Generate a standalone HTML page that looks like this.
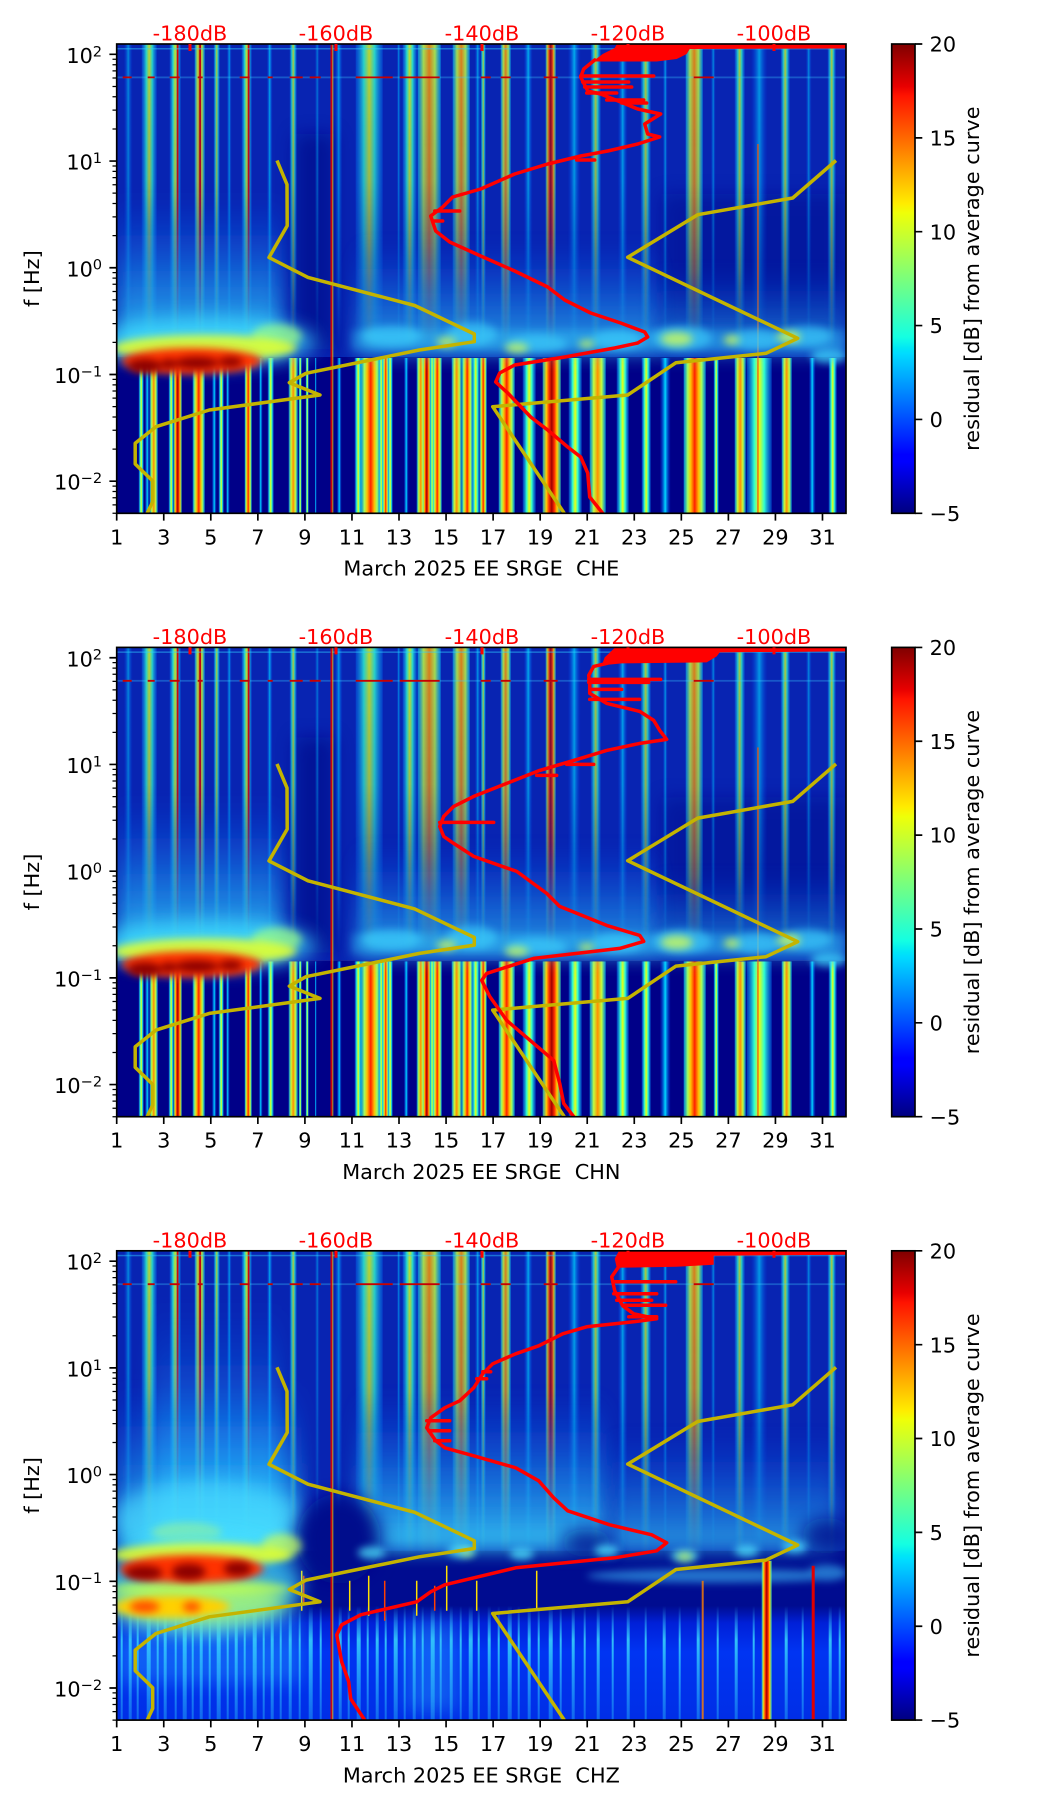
<!DOCTYPE html>
<html><head><meta charset="utf-8">
<style>
html,body{margin:0;padding:0;background:#fff;}
svg{display:block;}
text{font-family:"DejaVu Sans","Liberation Sans",sans-serif;font-size:20.8px;}
</style></head><body>
<svg xmlns="http://www.w3.org/2000/svg" width="1052" height="1806" viewBox="0 0 1052 1806">
<defs>
<linearGradient id="jet" x1="0" y1="1" x2="0" y2="0">
<stop offset="0" stop-color="#000080"/><stop offset=".11" stop-color="#0000ff"/><stop offset=".125" stop-color="#0000ff"/>
<stop offset=".34" stop-color="#00dbff"/><stop offset=".35" stop-color="#00e5f7"/><stop offset=".375" stop-color="#14ffe2"/>
<stop offset=".5" stop-color="#7bff7b"/><stop offset=".64" stop-color="#efff08"/><stop offset=".66" stop-color="#ffec00"/>
<stop offset=".89" stop-color="#ff1300"/><stop offset=".91" stop-color="#e80000"/><stop offset="1" stop-color="#800000"/>
</linearGradient>
<linearGradient id="gR" x1="0" y1="0" x2="1" y2="0">
<stop offset="0" stop-color="#00d0ff" stop-opacity=".6"/><stop offset=".18" stop-color="#a0ff60"/><stop offset=".32" stop-color="#ffc000"/>
<stop offset=".5" stop-color="#ff2000"/><stop offset=".68" stop-color="#ffc000"/><stop offset=".82" stop-color="#a0ff60"/><stop offset="1" stop-color="#00d0ff" stop-opacity=".6"/>
</linearGradient>
<linearGradient id="gD" x1="0" y1="0" x2="1" y2="0">
<stop offset="0" stop-color="#40ffc0" stop-opacity=".6"/><stop offset=".2" stop-color="#ffd000"/><stop offset=".35" stop-color="#ff3000"/>
<stop offset=".5" stop-color="#a00000"/><stop offset=".65" stop-color="#ff3000"/><stop offset=".8" stop-color="#ffd000"/><stop offset="1" stop-color="#40ffc0" stop-opacity=".6"/>
</linearGradient>
<linearGradient id="gO" x1="0" y1="0" x2="1" y2="0">
<stop offset="0" stop-color="#00d0ff" stop-opacity=".6"/><stop offset=".25" stop-color="#c0ff40"/><stop offset=".5" stop-color="#ff9000"/>
<stop offset=".75" stop-color="#c0ff40"/><stop offset="1" stop-color="#00d0ff" stop-opacity=".6"/>
</linearGradient>
<linearGradient id="gY" x1="0" y1="0" x2="1" y2="0">
<stop offset="0" stop-color="#0080ff" stop-opacity=".4"/><stop offset=".3" stop-color="#30ffd0"/><stop offset=".5" stop-color="#e8ff10"/>
<stop offset=".7" stop-color="#30ffd0"/><stop offset="1" stop-color="#0080ff" stop-opacity=".4"/>
</linearGradient>
<linearGradient id="gC" x1="0" y1="0" x2="1" y2="0">
<stop offset="0" stop-color="#0040ff" stop-opacity="0"/><stop offset=".5" stop-color="#00d8ff"/><stop offset="1" stop-color="#0040ff" stop-opacity="0"/>
</linearGradient>
<linearGradient id="glowC" x1="0" y1="0" x2="0" y2="1">
<stop offset="0" stop-color="#1060ff" stop-opacity="0"/><stop offset=".5" stop-color="#20b0ff" stop-opacity=".45"/><stop offset="1" stop-color="#40e8ff" stop-opacity=".85"/>
</linearGradient>
<linearGradient id="gSV" x1="0" y1="0" x2="0" y2="1">
<stop offset="0" stop-color="#40f0ff" stop-opacity="0"/><stop offset=".3" stop-color="#40f0ff" stop-opacity=".75"/><stop offset="1" stop-color="#30d0ff" stop-opacity=".35"/>
</linearGradient>
<linearGradient id="lowB" x1="0" y1="0" x2="0" y2="1">
<stop offset="0" stop-color="#000c90"/><stop offset=".15" stop-color="#0020d8"/><stop offset=".4" stop-color="#0034f2"/><stop offset="1" stop-color="#002ee6"/>
</linearGradient>
<linearGradient id="fadeUp" x1="0" y1="0" x2="0" y2="1">
<stop offset="0" stop-color="#fff" stop-opacity=".95"/><stop offset=".45" stop-color="#fff" stop-opacity=".8"/>
<stop offset=".75" stop-color="#fff" stop-opacity=".45"/><stop offset="1" stop-color="#fff" stop-opacity="0"/>
</linearGradient>
<mask id="mU" maskUnits="userSpaceOnUse" x="0" y="0" width="730" height="470"><rect x="0" y="0" width="730" height="305" fill="url(#fadeUp)"/></mask>
<clipPath id="cp"><rect x="0" y="0" width="729.3" height="469.3"/></clipPath>
<filter id="b4" x="-50%" y="-50%" width="200%" height="200%"><feGaussianBlur stdDeviation="4"/></filter>
<filter id="b8" x="-50%" y="-50%" width="200%" height="200%"><feGaussianBlur stdDeviation="9"/></filter>

<g id="ups">
<rect x="7" width="9" height="305" fill="url(#gC)" opacity=".6"/>
<rect x="25" width="15" height="305" fill="url(#gY)" opacity=".85"/>
<rect x="53" width="11" height="305" fill="url(#gY)" opacity=".9"/>
<rect x="60" width="1.8" height="305" fill="#e00000"/>
<rect x="78" width="10" height="305" fill="url(#gO)" opacity=".9"/>
<rect x="82.5" width="1.8" height="305" fill="#d00000"/>
<rect x="97" width="6" height="305" fill="url(#gY)" opacity=".8"/>
<rect x="110" width="5" height="305" fill="url(#gC)" opacity=".7"/>
<rect x="125" width="10" height="305" fill="url(#gY)" opacity=".9"/>
<rect x="131" width="1.8" height="305" fill="#e00000"/>
<rect x="150" width="6" height="305" fill="url(#gC)" opacity=".8"/>
<rect x="173" width="7" height="305" fill="url(#gY)" opacity=".8"/>
<rect x="198" width="5" height="305" fill="url(#gC)" opacity=".5"/>
<rect x="218" width="8" height="305" fill="url(#gC)" opacity=".7"/>
<rect x="239" width="27" height="305" fill="url(#gY)" opacity=".85"/>
<rect x="280" width="4" height="305" fill="url(#gC)" opacity=".6"/>
<rect x="286" width="14" height="305" fill="url(#gY)" opacity=".9"/>
<rect x="301" width="23" height="305" fill="url(#gO)" opacity=".9"/>
<rect x="336" width="17" height="305" fill="url(#gO)" opacity=".9"/>
<rect x="358" width="6" height="305" fill="url(#gC)" opacity=".7"/>
<rect x="364" width="5" height="305" fill="url(#gY)" opacity=".8"/>
<rect x="384" width="10" height="305" fill="url(#gO)" opacity=".9"/>
<rect x="407" width="9" height="305" fill="url(#gC)" opacity=".8"/>
<rect x="429" width="10" height="305" fill="url(#gD)" opacity=".9"/>
<rect x="451" width="13" height="305" fill="url(#gC)" opacity=".8"/>
<rect x="474" width="10" height="305" fill="url(#gY)" opacity=".8"/>
<rect x="501" width="10" height="305" fill="url(#gC)" opacity=".8"/>
<rect x="524" width="10" height="305" fill="url(#gY)" opacity=".8"/>
<rect x="546" width="5" height="305" fill="url(#gC)" opacity=".7"/>
<rect x="569" width="17" height="305" fill="url(#gO)" opacity=".9"/>
<rect x="594" width="5" height="305" fill="url(#gC)" opacity=".6"/>
<rect x="618" width="10" height="305" fill="url(#gY)" opacity=".8"/>
<rect x="634" width="17" height="305" fill="url(#gC)" opacity=".7"/>
<rect x="664" width="9" height="305" fill="url(#gY)" opacity=".8"/>
<rect x="689" width="6" height="305" fill="url(#gC)" opacity=".6"/>
<rect x="711" width="8" height="305" fill="url(#gY)" opacity=".8"/>
</g>

<g id="lows">
<rect x="22" y="314" width="5" height="156" fill="url(#gY)"/>
<rect x="28" y="314" width="5" height="156" fill="url(#gC)"/>
<rect x="33" y="314" width="8" height="156" fill="url(#gO)"/>
<rect x="52" y="314" width="5" height="156" fill="url(#gY)"/>
<rect x="57" y="314" width="8" height="156" fill="url(#gD)"/>
<rect x="76" y="314" width="12" height="156" fill="url(#gR)"/>
<rect x="95" y="314" width="5" height="156" fill="url(#gC)"/>
<rect x="102" y="314" width="5" height="156" fill="url(#gY)"/>
<rect x="109" y="314" width="4" height="156" fill="url(#gC)"/>
<rect x="128" y="314" width="7" height="156" fill="url(#gR)"/>
<rect x="142" y="314" width="4" height="156" fill="url(#gC)"/>
<rect x="151" y="314" width="6" height="156" fill="url(#gY)"/>
<rect x="172" y="314" width="9" height="156" fill="url(#gO)"/>
<rect x="182" y="314" width="3" height="156" fill="url(#gY)"/>
<rect x="189" y="314" width="3" height="156" fill="url(#gY)"/>
<rect x="198" y="314" width="2" height="156" fill="url(#gC)"/>
<rect x="220" y="314" width="5" height="156" fill="url(#gC)"/>
<rect x="238" y="314" width="7" height="156" fill="url(#gY)"/>
<rect x="244" y="314" width="20" height="156" fill="url(#gR)"/>
<rect x="262" y="314" width="5" height="156" fill="url(#gY)"/>
<rect x="266" y="314" width="6" height="156" fill="url(#gR)"/>
<rect x="271" y="314" width="5" height="156" fill="url(#gY)"/>
<rect x="287" y="314" width="5" height="156" fill="url(#gC)"/>
<rect x="300" y="314" width="8" height="156" fill="url(#gO)"/>
<rect x="306" y="314" width="8" height="156" fill="url(#gD)"/>
<rect x="313" y="314" width="5" height="156" fill="url(#gY)"/>
<rect x="316" y="314" width="9" height="156" fill="url(#gR)"/>
<rect x="335" y="314" width="10" height="156" fill="url(#gO)"/>
<rect x="345" y="314" width="11" height="156" fill="url(#gR)"/>
<rect x="355" y="314" width="8" height="156" fill="url(#gY)"/>
<rect x="363" y="314" width="7" height="156" fill="url(#gR)"/>
<rect x="382" y="314" width="16" height="156" fill="url(#gR)"/>
<rect x="406" y="314" width="13" height="156" fill="url(#gY)"/>
<rect x="426" y="314" width="18" height="156" fill="url(#gD)"/>
<rect x="452" y="314" width="13" height="156" fill="url(#gY)"/>
<rect x="473" y="314" width="16" height="156" fill="url(#gO)"/>
<rect x="500" y="314" width="12" height="156" fill="url(#gY)"/>
<rect x="525" y="314" width="9" height="156" fill="url(#gY)"/>
<rect x="543" y="314" width="11" height="156" fill="url(#gC)"/>
<rect x="567" y="314" width="22" height="156" fill="url(#gR)"/>
<rect x="597" y="314" width="5" height="156" fill="url(#gY)"/>
<rect x="618" y="314" width="11" height="156" fill="url(#gO)"/>
<rect x="630" y="314" width="25" height="156" fill="url(#gY)"/>
<rect x="665" y="314" width="10" height="156" fill="url(#gO)"/>
<rect x="692" y="314" width="7" height="156" fill="url(#gC)"/>
<rect x="712" y="314" width="8" height="156" fill="url(#gY)"/>
</g>

<g id="cl">
<rect y="4" width="729.3" height="1.5" fill="#30d0ff" opacity=".45"/>
<rect y="32.5" width="729.3" height="1.8" fill="#40d0ff" opacity=".3"/>
<path stroke="#c80000" stroke-width="1.8" fill="none" d="M6,33.4h9M31,33.4h7M53,33.4h10M81,33.4h5M123,33.4h10M151,33.4h5M173,33.4h13M193,33.4h11M239,33.4h37M283,33.4h40M364,33.4h10M384,33.4h10M427,33.4h14M577,33.4h20"/>
<rect x="213.8" width="1.8" height="469.3" fill="#e00000" opacity=".9"/>
<rect x="215.6" width="1" height="469.3" fill="#ffe000" opacity=".7"/>
<g fill="none" stroke="#c4b400" stroke-width="3.5" stroke-linejoin="round">
<polyline points="160.3,116.5 170.3,140.5 170.5,181.7 152.3,213.5 191.3,233.4 298,261.5 357.6,290 357.6,297.7 302.6,306 189.3,329.3 172.6,338.7 203.3,351 92.6,366 39.3,382.7 18.5,399.3 18.5,420 36,437 36,457.7 30.5,469.3"/>
<polyline points="719.3,116.5 676,154 581,170.7 511,213.3 681,294.3 649.3,309.3 559.3,318.7 511,351 376,362.7 447.6,469.3"/>
</g>
</g>

<g id="spec12">
<rect width="729.3" height="313" fill="#0824b2"/>
<rect y="313" width="729.3" height="157" fill="#000088"/>
<rect x="178" y="90" width="40" height="215" fill="#000a8c" opacity=".7" filter="url(#b8)"/>
<rect x="545" y="150" width="184" height="140" fill="#00108e" opacity=".5" filter="url(#b8)"/>
<g mask="url(#mU)"><use href="#ups"/></g>
<use href="#lows"/>
<rect x="640.5" y="100" width="1.5" height="369" fill="#ff5000" opacity=".8"/>
<rect x="0" y="150" width="165" height="160" fill="url(#glowC)" filter="url(#b8)"/>
<rect x="240" y="195" width="300" height="115" fill="url(#glowC)" opacity=".75" filter="url(#b8)"/>
<rect x="540" y="225" width="189" height="85" fill="url(#glowC)" opacity=".6" filter="url(#b8)"/>
<rect x="235" y="286" width="494" height="20" fill="#38d0ff" opacity=".3" filter="url(#b4)"/>
<g fill="#40d8ff" opacity=".55" filter="url(#b4)">
<ellipse cx="275" cy="292" rx="30" ry="10"/><ellipse cx="355" cy="290" rx="25" ry="12"/><ellipse cx="420" cy="300" rx="30" ry="9"/>
<ellipse cx="500" cy="296" rx="25" ry="10"/><ellipse cx="565" cy="294" rx="30" ry="12"/><ellipse cx="640" cy="296" rx="25" ry="10"/><ellipse cx="690" cy="292" rx="25" ry="10"/>
</g>
<g fill="#d8ff50" opacity=".75" filter="url(#b4)">
<ellipse cx="330" cy="298" rx="10" ry="5"/><ellipse cx="400" cy="304" rx="12" ry="5"/><ellipse cx="470" cy="300" rx="8" ry="4"/>
<ellipse cx="560" cy="295" rx="16" ry="7"/><ellipse cx="615" cy="296" rx="8" ry="5"/><ellipse cx="672" cy="293" rx="12" ry="6"/>
</g>
<ellipse cx="712" cy="312" rx="18" ry="7" fill="#40e0ff" opacity=".7" filter="url(#b4)"/>
<ellipse cx="90" cy="298" rx="110" ry="24" fill="#40e0ff" opacity=".7" filter="url(#b8)"/>
<ellipse cx="160" cy="292" rx="25" ry="12" fill="#a0ff80" opacity=".7" filter="url(#b4)"/>
<ellipse cx="88" cy="304" rx="92" ry="13" fill="#e0ff30" opacity=".9" filter="url(#b4)"/>
<ellipse cx="75" cy="317" rx="70" ry="13" fill="#ff3000" filter="url(#b4)"/>
<g fill="#8c0000" filter="url(#b4)">
<ellipse cx="28" cy="322" rx="17" ry="7"/><ellipse cx="80" cy="319" rx="22" ry="6"/><ellipse cx="114" cy="318" rx="12" ry="5"/><ellipse cx="52" cy="320" rx="8" ry="5"/>
</g>
</g>

<g id="spec3">
<rect width="729.3" height="313" fill="#0824b2"/>
<rect y="300" width="729.3" height="75" fill="#000c90"/>
<rect y="355" width="729.3" height="115" fill="url(#lowB)"/>
<g mask="url(#mU)"><use href="#ups"/></g>
<rect x="35" y="50" width="130" height="250" fill="url(#glowC)" filter="url(#b8)"/>
<rect x="0" y="130" width="185" height="175" fill="url(#glowC)" filter="url(#b8)"/>
<ellipse cx="90" cy="268" rx="95" ry="38" fill="#50e0ff" opacity=".6" filter="url(#b8)"/>
<ellipse cx="70" cy="282" rx="35" ry="10" fill="#c0ff60" opacity=".45" filter="url(#b4)"/>
<rect x="240" y="140" width="250" height="160" fill="url(#glowC)" opacity=".95" filter="url(#b8)"/>
<rect x="495" y="180" width="225" height="120" fill="url(#glowC)" opacity=".7" filter="url(#b8)"/>
<ellipse cx="222" cy="288" rx="42" ry="45" fill="#000a8c" filter="url(#b8)"/>
<ellipse cx="470" cy="292" rx="25" ry="14" fill="#000a8c" opacity=".8" filter="url(#b8)"/>
<ellipse cx="710" cy="285" rx="25" ry="18" fill="#000a8c" opacity=".8" filter="url(#b8)"/>
<g fill="#50e8ff" opacity=".75" filter="url(#b4)">
<ellipse cx="255" cy="302" rx="14" ry="6"/><ellipse cx="345" cy="300" rx="14" ry="7"/><ellipse cx="405" cy="303" rx="12" ry="6"/>
<ellipse cx="490" cy="300" rx="12" ry="6"/><ellipse cx="568" cy="305" rx="14" ry="6"/><ellipse cx="630" cy="300" rx="12" ry="6"/><ellipse cx="678" cy="296" rx="12" ry="6"/>
</g>
<g fill="#e0ff40" opacity=".7" filter="url(#b4)"><ellipse cx="568" cy="306" rx="8" ry="4"/><ellipse cx="350" cy="302" rx="7" ry="3"/></g>
<g fill="#40c8ff" opacity=".55" filter="url(#b4)">
<ellipse cx="600" cy="325" rx="130" ry="7"/><ellipse cx="710" cy="322" rx="20" ry="8"/>
</g>
<g fill="url(#gSV)">
<rect x="4" y="355" width="2" height="114.3"/><rect x="12" y="355" width="3" height="114.3"/><rect x="20" y="355" width="2" height="114.3"/><rect x="30" y="355" width="4" height="114.3"/>
<rect x="40" y="355" width="2" height="114.3"/><rect x="47" y="355" width="3" height="114.3"/><rect x="58" y="355" width="2" height="114.3"/><rect x="66" y="355" width="4" height="114.3"/>
<rect x="75" y="355" width="2" height="114.3"/><rect x="83" y="355" width="3" height="114.3"/><rect x="92" y="355" width="2" height="114.3"/><rect x="100" y="355" width="4" height="114.3"/>
<rect x="110" y="355" width="2" height="114.3"/><rect x="118" y="355" width="3" height="114.3"/><rect x="127" y="355" width="2" height="114.3"/><rect x="136" y="355" width="4" height="114.3"/>
<rect x="146" y="355" width="2" height="114.3"/><rect x="154" y="355" width="3" height="114.3"/><rect x="163" y="355" width="2" height="114.3"/><rect x="172" y="355" width="3" height="114.3"/>
<rect x="182" y="355" width="2" height="114.3"/><rect x="192" y="355" width="4" height="114.3"/><rect x="203" y="355" width="2" height="114.3"/><rect x="222" y="355" width="3" height="114.3"/>
<rect x="231" y="355" width="2" height="114.3"/><rect x="240" y="355" width="4" height="114.3"/><rect x="250" y="355" width="2" height="114.3"/><rect x="259" y="355" width="3" height="114.3"/>
<rect x="268" y="355" width="2" height="114.3"/><rect x="277" y="355" width="4" height="114.3"/><rect x="287" y="355" width="2" height="114.3"/><rect x="296" y="355" width="3" height="114.3"/>
<rect x="305" y="355" width="2" height="114.3"/><rect x="314" y="355" width="4" height="114.3"/><rect x="323" y="355" width="2" height="114.3"/><rect x="333" y="355" width="3" height="114.3"/>
<rect x="343" y="355" width="2" height="114.3"/><rect x="352" y="355" width="4" height="114.3"/><rect x="361" y="355" width="2" height="114.3"/><rect x="371" y="355" width="3" height="114.3"/>
<rect x="381" y="355" width="2" height="114.3"/><rect x="391" y="355" width="4" height="114.3"/><rect x="401" y="355" width="2" height="114.3"/><rect x="411" y="355" width="3" height="114.3"/>
<rect x="421" y="355" width="2" height="114.3"/><rect x="432" y="355" width="4" height="114.3"/><rect x="443" y="355" width="2" height="114.3"/><rect x="455" y="355" width="3" height="114.3"/>
<rect x="467" y="355" width="2" height="114.3"/><rect x="480" y="355" width="3" height="114.3"/><rect x="495" y="355" width="2" height="114.3"/><rect x="510" y="355" width="3" height="114.3"/>
<rect x="528" y="355" width="2" height="114.3"/><rect x="546" y="355" width="3" height="114.3"/><rect x="562" y="355" width="2" height="114.3"/><rect x="580" y="355" width="3" height="114.3"/>
<rect x="600" y="355" width="2" height="114.3"/><rect x="618" y="355" width="3" height="114.3"/><rect x="636" y="355" width="2" height="114.3"/><rect x="668" y="355" width="3" height="114.3"/>
<rect x="685" y="355" width="2" height="114.3"/><rect x="712" y="355" width="3" height="114.3"/><rect x="722" y="355" width="2" height="114.3"/>
</g>
<rect x="0" y="362" width="185" height="70" fill="#30c0ff" opacity=".3" filter="url(#b8)"/>
<rect x="290" y="370" width="50" height="90" fill="#30c0ff" opacity=".3" filter="url(#b8)"/>
<g stroke-width="1.5" fill="none">
<path stroke="#ffe000" d="M185,320v40M233,330v30M252,325v40M300,330v35M330,315v45M360,330v30M420,320v40"/>
<path stroke="#ff4000" d="M187,325v30M268,330v40M318,335v25"/>
</g>
<rect x="645" y="310" width="10" height="160" fill="url(#gD)"/>
<rect x="695" y="315" width="3" height="155" fill="#e00000"/>
<rect x="585" y="330" width="2" height="140" fill="#ff8000" opacity=".8"/>
<ellipse cx="85" cy="335" rx="100" ry="50" fill="#40e0ff" opacity=".7" filter="url(#b8)"/>
<ellipse cx="80" cy="350" rx="90" ry="25" fill="#b0ff70" opacity=".8" filter="url(#b8)"/>
<ellipse cx="85" cy="338" rx="90" ry="7" fill="#c0ff50" opacity=".7" filter="url(#b4)"/>
<ellipse cx="165" cy="295" rx="20" ry="12" fill="#d0ff50" opacity=".7" filter="url(#b4)"/>
<ellipse cx="85" cy="304" rx="90" ry="12" fill="#e0ff30" opacity=".9" filter="url(#b4)"/>
<ellipse cx="75" cy="318" rx="72" ry="14" fill="#ff3000" filter="url(#b4)"/>
<g fill="#8c0000" filter="url(#b4)">
<ellipse cx="27" cy="322" rx="19" ry="7"/><ellipse cx="72" cy="321" rx="17" ry="8"/><ellipse cx="121" cy="318" rx="14" ry="7"/>
</g>
<ellipse cx="55" cy="356" rx="58" ry="11" fill="#ffd000" filter="url(#b4)"/>
<g fill="#ff5000" filter="url(#b4)"><ellipse cx="28" cy="356" rx="15" ry="6"/><ellipse cx="75" cy="356" rx="9" ry="5"/></g>
</g>

<g id="ax">
<rect width="729.3" height="469.3" fill="none" stroke="#000" stroke-width="1.67"/>
<path stroke="red" stroke-width="3" d="M73.3,0v7M219.3,0v7M365.3,0v7M511.3,0v7M657.3,0v7"/>
<path stroke="#000" stroke-width="1.67" d="M0,469.3v7.3M47.05,469.3v7.3M94.1,469.3v7.3M141.16,469.3v7.3M188.21,469.3v7.3M235.26,469.3v7.3M282.31,469.3v7.3M329.37,469.3v7.3M376.42,469.3v7.3M423.47,469.3v7.3M470.52,469.3v7.3M517.57,469.3v7.3M564.63,469.3v7.3M611.68,469.3v7.3M658.73,469.3v7.3M705.78,469.3v7.3M-7.3,10.35h7.3M-7.3,117.06h7.3M-7.3,223.77h7.3M-7.3,330.48h7.3M-7.3,437.19h7.3"/>
<path stroke="#000" stroke-width="1.25" d="M-4.2,15.23h4.2M-4.2,20.69h4.2M-4.2,26.88h4.2M-4.2,34.02h4.2M-4.2,42.47h4.2M-4.2,52.81h4.2M-4.2,66.15h4.2M-4.2,84.94h4.2M-4.2,121.94h4.2M-4.2,127.4h4.2M-4.2,133.59h4.2M-4.2,140.73h4.2M-4.2,149.18h4.2M-4.2,159.52h4.2M-4.2,172.86h4.2M-4.2,191.65h4.2M-4.2,228.65h4.2M-4.2,234.11h4.2M-4.2,240.3h4.2M-4.2,247.44h4.2M-4.2,255.89h4.2M-4.2,266.23h4.2M-4.2,279.57h4.2M-4.2,298.36h4.2M-4.2,335.36h4.2M-4.2,340.82h4.2M-4.2,347.01h4.2M-4.2,354.15h4.2M-4.2,362.6h4.2M-4.2,372.94h4.2M-4.2,386.28h4.2M-4.2,405.07h4.2M-4.2,442.07h4.2M-4.2,447.52h4.2M-4.2,453.71h4.2M-4.2,460.86h4.2M-4.2,469.3h4.2"/>
<g text-anchor="middle" fill="#000">
<text x="0" y="500.3">1</text><text x="47.05" y="500.3">3</text><text x="94.1" y="500.3">5</text><text x="141.16" y="500.3">7</text>
<text x="188.21" y="500.3">9</text><text x="235.26" y="500.3">11</text><text x="282.31" y="500.3">13</text><text x="329.37" y="500.3">15</text>
<text x="376.42" y="500.3">17</text><text x="423.47" y="500.3">19</text><text x="470.52" y="500.3">21</text><text x="517.57" y="500.3">23</text>
<text x="564.63" y="500.3">25</text><text x="611.68" y="500.3">27</text><text x="658.73" y="500.3">29</text><text x="705.78" y="500.3">31</text>
</g>
<g text-anchor="end" fill="#000">
<text x="-14.6" y="18.85">10<tspan dy="-6.6" font-size="14.6">2</tspan></text>
<text x="-14.6" y="125.56">10<tspan dy="-6.6" font-size="14.6">1</tspan></text>
<text x="-14.6" y="232.27">10<tspan dy="-6.6" font-size="14.6">0</tspan></text>
<text x="-14.6" y="338.98">10<tspan dy="-6.6" font-size="14.6">−1</tspan></text>
<text x="-14.6" y="445.69">10<tspan dy="-6.6" font-size="14.6">−2</tspan></text>
</g>
<g text-anchor="middle" fill="#ff0000">
<text x="73.3" y="-3.3">-180dB</text><text x="219.3" y="-3.3">-160dB</text><text x="365.3" y="-3.3">-140dB</text><text x="511.3" y="-3.3">-120dB</text><text x="657.3" y="-3.3">-100dB</text>
</g>
<text transform="translate(-77.7,234.65) rotate(-90)" text-anchor="middle">f [Hz]</text>
<rect x="775" y="0" width="23.3" height="469.3" fill="url(#jet)" stroke="#000" stroke-width="1.67"/>
<path stroke="#000" stroke-width="1.67" d="M798.3,0h7.3M798.3,93.86h7.3M798.3,187.72h7.3M798.3,281.58h7.3M798.3,375.44h7.3M798.3,469.3h7.3"/>
<g fill="#000">
<text x="812.9" y="7.6">20</text><text x="812.9" y="101.5">15</text><text x="812.9" y="195.3">10</text>
<text x="812.9" y="289.2">5</text><text x="812.9" y="383">0</text><text x="812.9" y="476.9">−5</text>
</g>
<text transform="translate(862.3,234.65) rotate(-90)" text-anchor="middle">residual [dB] from average curve</text>
</g>
</defs>

<rect width="1052" height="1806" fill="#fff"/>

<g transform="translate(116.7,44)">
<g clip-path="url(#cp)">
<use href="#spec12"/>
<use href="#cl"/>
<g fill="none" stroke="#ff0000" stroke-width="3.5" stroke-linejoin="round" stroke-linecap="round">
<polyline points="478,16 467,25 464,33 471,47 484,50 504,58 521,65 544,70 528,80 531,90 543,93 521,100 491,107 464,112 431,120 398,130 364,145 336,153 326,163 314,172 319,187 333,198 364,212 398,227 431,243 448,256 474,269 504,279 528,288 531,293 521,299 498,304 448,313 398,321 383,329 379,338 391,349 414,373 431,386 451,403 464,413 471,429 473,453 486,469.3"/>
<path d="M464,32h73M466,38h46M468,43h47M470,49h30M490,56h37M505,59h25M460,116h18M318,167h25M316,177h10"/>
</g>
<polygon fill="#ff0000" points="500,0.5 729.3,0.5 729.3,4.5 573,5 570,10 560,15 540,17.5 476,17.5 486,10 498,4"/>
</g>
<use href="#ax"/>
<text x="364.65" y="531.5" text-anchor="middle" style="white-space:pre">March 2025 EE SRGE  CHE</text>
</g>

<g transform="translate(116.7,647.4)">
<g clip-path="url(#cp)">
<use href="#spec12"/>
<use href="#cl"/>
<g fill="none" stroke="#ff0000" stroke-width="3.5" stroke-linejoin="round" stroke-linecap="round">
<polyline points="490,16 477,19 472,28 473,36 473,46 490,56 523,64 537,73 543,83 550,92 523,96 490,103 457,113 423,123 390,136 357,149 337,159 327,169 323,179 327,189 337,196 357,209 400,224 430,246 443,259 490,278 523,288 527,294 503,301 417,311 370,326 365,333 373,349 390,373 417,396 437,413 443,436 447,456 457,469.3"/>
<path d="M472,32h72M472,35h60M473,42h32M473,52h50M450,117h27M420,128h20M323,175h54"/>
</g>
<polygon fill="#ff0000" points="498,0.5 729.3,0.5 729.3,4 603,5 600,9 590,15 505,16 485,18 488,10"/>
</g>
<use href="#ax"/>
<text x="364.65" y="531.5" text-anchor="middle" style="white-space:pre">March 2025 EE SRGE  CHN</text>
</g>

<g transform="translate(116.7,1250.8)">
<g clip-path="url(#cp)">
<use href="#spec3"/>
<use href="#cl"/>
<g fill="none" stroke="#ff0000" stroke-width="3.5" stroke-linejoin="round" stroke-linecap="round">
<polyline points="502,16 495,26 498,40 506,55 517,63 540,68 517,71 470,76 446,83 422,95 399,103 376,113 366,123 357,137 343,150 328,157 314,167 310,177 319,190 328,197 357,205 399,217 422,230 437,247 451,260 493,274 535,284 550,292 540,300 498,307 399,317 328,334 314,341 300,351 244,364 225,374 220,384 225,411 232,431 234,448 248,469.3"/>
<path d="M497,31h62M497,43h43M500,49.5h35M507,54.5h42M512,66h28M310,170h23M312,180h21M318,190h15M360,128h10M366,121h8"/>
</g>
<polygon fill="#ff0000" points="502,0.5 729.3,0.5 729.3,4 597,5 597,14 560,16 500,17 498,8"/>
</g>
<use href="#ax"/>
<text x="364.65" y="531.5" text-anchor="middle" style="white-space:pre">March 2025 EE SRGE  CHZ</text>
</g>
</svg>
</body></html>
